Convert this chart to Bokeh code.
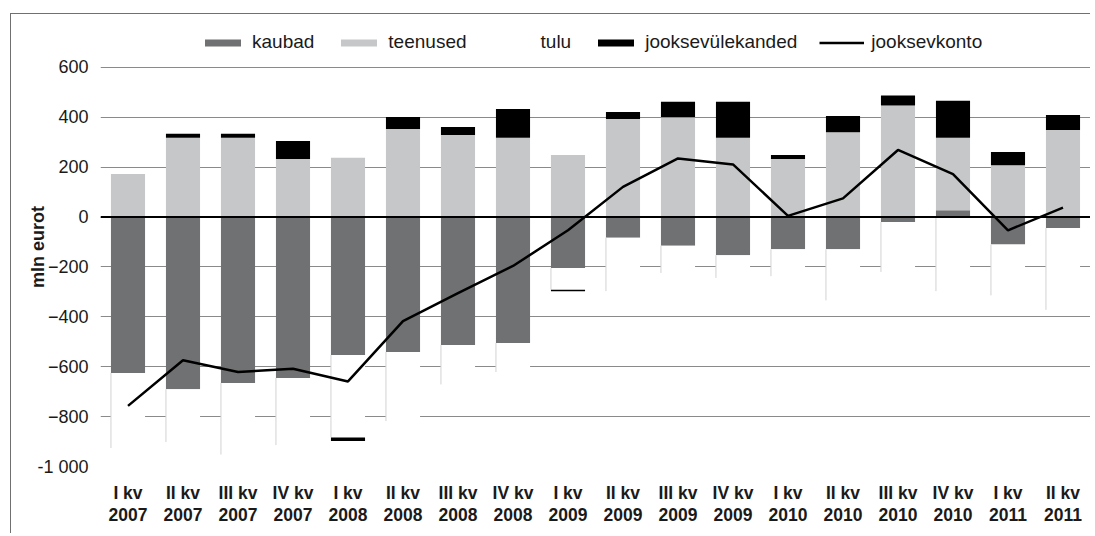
from bokeh.plotting import figure
from bokeh.models import (ColumnDataSource, Range1d, FixedTicker, Legend,
                          LegendItem, Span)
from bokeh.embed import file_html
from bokeh.resources import INLINE

quarters = ["I kv", "II kv", "III kv", "IV kv", "I kv", "II kv", "III kv", "IV kv",
            "I kv", "II kv", "III kv", "IV kv", "I kv", "II kv", "III kv", "IV kv",
            "I kv", "II kv"]
years = ["2007"] * 4 + ["2008"] * 4 + ["2009"] * 4 + ["2010"] * 4 + ["2011"] * 2
kaubad = [-625, -690, -665, -645, -553, -541, -513, -505, -204, -83, -115, -153,
          -129, -129, -20, 27, -110, -44]
teenused = [173, 318, 318, 233, 238, 353, 329, 318, 249, 393, 400, 318,
            233, 340, 447, 291, 208, 349]
tulu = [-301, -212, -287, -269, -331, -277, -158, -116, -87, -214, -109, -91,
        -108, -205, -200, -297, -204, -328]
ulekanded = [0, 16, 16, 72, -14, 48, 32, 115, -6, 28, 62, 144,
             16, 65, 40, 148, 53, 60]
jooksevkonto = [-757, -574, -621, -608, -659, -417, -305, -196, -53, 121, 235, 211,
                5, 75, 269, 172, -53, 38]
y_ticks = [-1000, -800, -600, -400, -200, 0, 200, 400, 600]

FONT = "Liberation Sans"
TXT = "#1a1a1a"
BW = 0.62

n = len(quarters)
x = list(range(n))
k_top = kaubad
k_bot = [0] * n
t_bot = [max(k, 0) for k in kaubad]
t_top = [b + t for b, t in zip(t_bot, teenused)]
u_top = [min(k, 0) for k in kaubad]
u_bot = [t + v for t, v in zip(u_top, tulu)]
j_bot = [tt if j >= 0 else ub for tt, ub, j in zip(t_top, u_bot, ulekanded)]
j_top = [b + j for b, j in zip(j_bot, ulekanded)]
edge_x = [xi - BW / 2 for xi in x]

src = ColumnDataSource(dict(x=x, k_top=k_top, k_bot=k_bot, t_bot=t_bot, t_top=t_top,
                            u_top=u_top, u_bot=u_bot, j_bot=j_bot, j_top=j_top,
                            edge_x=edge_x, konto=jooksevkonto))

p = figure(width=1080, height=520, output_backend="svg", toolbar_location=None,
           x_range=Range1d(-0.5, n - 0.5), y_range=Range1d(-1000, 760),
           min_border_left=89, min_border_right=1, min_border_top=13,
           min_border_bottom=68)
p.outline_line_color = None
p.background_fill_color = "white"
p.border_fill_color = "white"
p.xgrid.visible = False
p.ygrid.ticker = FixedTicker(ticks=y_ticks)
p.ygrid.grid_line_color = "#8a8a8a"
p.ygrid.grid_line_width = 1

r_k = p.vbar(x="x", top="k_top", bottom="k_bot", width=BW, source=src,
             fill_color="#707172", line_color=None)
r_t = p.vbar(x="x", top="t_top", bottom="t_bot", width=BW, source=src,
             fill_color="#c6c7c8", line_color=None)
r_u = p.vbar(x="x", top="u_top", bottom="u_bot", width=BW, source=src,
             fill_color="white", line_color=None)
p.segment(x0="edge_x", y0="u_top", x1="edge_x", y1="u_bot", source=src,
          line_color="#d2d2d2", line_width=1)
r_j = p.vbar(x="x", top="j_top", bottom="j_bot", width=BW, source=src,
             fill_color="black", line_color=None)

p.add_layout(Span(location=0, dimension="width", line_color="black", line_width=2))

r_l = p.line(x="x", y="konto", source=src, line_color="black", line_width=2.5)

# y axis
ya = p.yaxis[0]
ya.ticker = FixedTicker(ticks=y_ticks)
ya.major_label_overrides = {-1000: "-1 000"}
ya.axis_line_color = None
ya.major_tick_line_color = None
ya.minor_tick_line_color = None
ya.major_label_standoff = 6
ya.major_label_text_font = FONT
ya.major_label_text_font_size = "18px"
ya.major_label_text_color = TXT
ya.axis_label = "mln eurot"
ya.axis_label_text_font = FONT
ya.axis_label_text_font_size = "18px"
ya.axis_label_text_font_style = "bold"
ya.axis_label_text_color = TXT
ya.axis_label_standoff = -14

# x axis (two-line labels)
xa = p.xaxis[0]
xa.ticker = FixedTicker(ticks=x)
xa.major_label_overrides = {i: f"{q}\n{y}" for i, (q, y) in enumerate(zip(quarters, years))}
xa.axis_line_color = None
xa.major_tick_line_color = None
xa.minor_tick_line_color = None
xa.major_label_standoff = 10
xa.major_label_text_font = FONT
xa.major_label_text_font_size = "17.5px"
xa.major_label_text_font_style = "bold"
xa.major_label_text_color = TXT
xa.major_label_text_line_height = 1.1

legend = Legend(items=[LegendItem(label="kaubad", renderers=[r_k]),
                       LegendItem(label="teenused", renderers=[r_t]),
                       LegendItem(label="tulu", renderers=[r_u]),
                       LegendItem(label="jooksevülekanded", renderers=[r_j]),
                       LegendItem(label="jooksevkonto", renderers=[r_l])],
                orientation="horizontal", location=(100, 413),
                glyph_width=45, glyph_height=9, label_standoff=7, spacing=22,
                padding=0, margin=0, border_line_color=None,
                background_fill_alpha=0, label_text_font=FONT,
                label_text_font_size="19px", label_text_color=TXT)
p.add_layout(legend)

p.margin = (13, 0, 0, 10)
p.styles = {"border-left": "1px solid #707070", "border-top": "1px solid #707070"}

open("out.html", "w").write(file_html(p, INLINE))
